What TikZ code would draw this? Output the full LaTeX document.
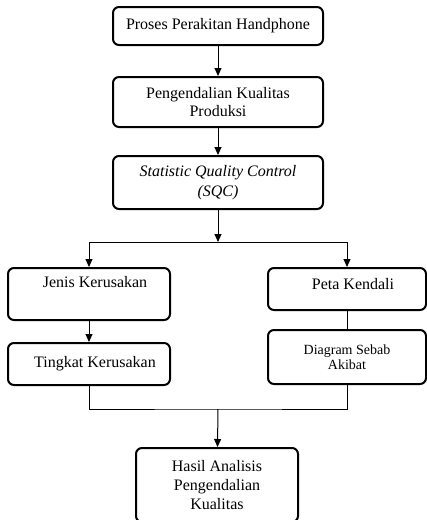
\documentclass[tikz,border=0pt]{standalone}
\usepackage{fontspec}
\setmainfont{Liberation Serif}
\usetikzlibrary{arrows.meta}

\begin{document}
\begin{tikzpicture}[x=1pt,y=-1pt,
  box/.style={draw,line width=2pt,rounded corners=6pt,align=center,inner sep=2pt,
    font=\fontsize{16}{18}\selectfont},
  arr/.style={-{Triangle[length=8pt,width=7pt]},line width=1pt},
  link/.style={line width=1pt}]
\useasboundingbox (0,0) rectangle (427,520);

% Main chain
\node[box,minimum width=210pt,minimum height=38pt] (proses) at (218,26) {Proses Perakitan Handphone};
\node[box,minimum width=210pt,minimum height=50pt] (kualitas) at (218,102) {Pengendalian Kualitas\\Produksi};
\node[box,minimum width=210pt,minimum height=53pt,font=\fontsize{16}{19.5}\selectfont\itshape] (sqc) at (218,182.5) {Statistic Quality Control\\(SQC)};

% Left branch
\node[box,minimum width=162pt,minimum height=52pt] (jenis) at (89,294) {\hspace{12pt}Jenis Kerusakan\\ \strut};
\node[box,minimum width=162pt,minimum height=42pt] (tingkat) at (89,364) {\hspace{12pt}Tingkat Kerusakan};

% Right branch
\node[box,minimum width=158pt,minimum height=42pt,text depth=10pt] (peta) at (347,289) {\hspace{12pt}Peta Kendali};
\node[box,minimum width=158pt,minimum height=54pt,font=\fontsize{14}{15.5}\selectfont] (diagram) at (347,357) {Diagram Sebab\\Akibat};

% Result
\node[box,minimum width=162pt,minimum height=74pt,font=\fontsize{16}{19}\selectfont] (hasil) at (217,485) {Hasil Analisis\\Pengendalian\\Kualitas};

\coordinate (split) at (218,242);
\coordinate (join) at (218,409);

% Connectors
\draw[arr] (proses) -- (kualitas);
\draw[arr] (kualitas) -- (sqc);
\draw[arr] (sqc) -- (split);
\draw[arr] (split) -| (jenis.north);
\draw[arr] (split) -| (peta.north);
\draw[arr] (jenis) -- (tingkat);
\draw[link] (peta) -- (diagram);
\draw[link] (tingkat.south) |- (join) -| (diagram.south);
\draw[arr] (join) -- (hasil);
\end{tikzpicture}
\end{document}
